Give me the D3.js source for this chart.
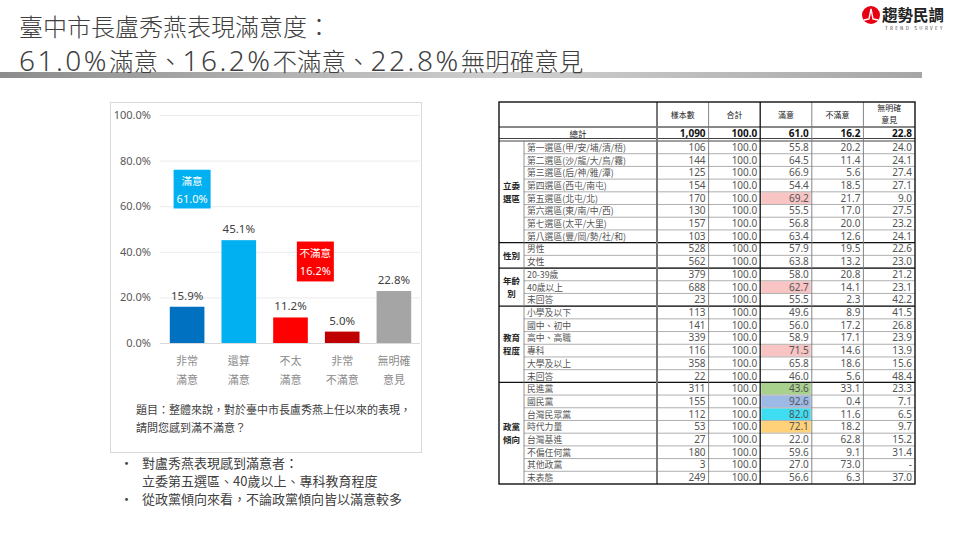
<!DOCTYPE html>
<html>
<head>
<meta charset="utf-8">
<title>臺中市長盧秀燕表現滿意度</title>
<script src="https://d3js.org/d3.v7.min.js"></script>
<style>
  body { margin: 0; background: #fff; }
  svg { display: block; font-family: "Noto Sans CJK TC", "Noto Sans", sans-serif; }
</style>
</head>
<body>
<div id="chart"></div>
<script>
// ---- chart data ----
var categories = ["非常滿意", "還算滿意", "不太滿意", "非常不滿意", "無明確意見"];
var catLines = [["非常", "滿意"], ["還算", "滿意"], ["不太", "滿意"], ["非常", "不滿意"], ["無明確", "意見"]];
var values = [15.9, 45.1, 11.2, 5.0, 22.8];
var barColors = ["#0070C0", "#00B0F0", "#FF0000", "#C00000", "#A5A5A5"];
var yTicks = [0, 20, 40, 60, 80, 100];

// ---- table data ----
var groupNames = [["立委", "選區"], ["性別"], ["年齡", "別"], ["教育", "程度"], ["政黨", "傾向"]];
var groupSizes = [8, 2, 3, 6, 8];
var rowLabels = [
  "第一選區(甲/安/埔/清/梧)", "第二選區(沙/龍/大/烏/霧)", "第三選區(后/神/雅/潭)", "第四選區(西屯/南屯)",
  "第五選區(北屯/北)", "第六選區(東/南/中/西)", "第七選區(太平/大里)", "第八選區(豐/岡/勢/社/和)",
  "男性", "女性",
  "20-39歲", "40歲以上", "未回答",
  "小學及以下", "國中、初中", "高中、高職", "專科", "大學及以上", "未回答",
  "民進黨", "國民黨", "台灣民眾黨", "時代力量", "台灣基進", "不偏任何黨", "其他政黨", "未表態"
];
var samples = ["106","144","125","154","170","130","157","103","528","562","379","688","23",
  "113","141","339","116","358","22","311","155","112","53","27","180","3","249"];
var satisfied = ["55.8","64.5","66.9","54.4","69.2","55.5","56.8","63.4","57.9","63.8","58.0","62.7","55.5",
  "49.6","56.0","58.9","71.5","65.8","46.0","43.6","92.6","82.0","72.1","22.0","59.6","27.0","56.6"];
var unsatisfied = ["20.2","11.4","5.6","18.5","21.7","17.0","20.0","12.6","19.5","13.2","20.8","14.1","2.3",
  "8.9","17.2","17.1","14.6","18.6","5.6","33.1","0.4","11.6","18.2","62.8","9.1","73.0","6.3"];
var noOpinion = ["24.0","24.1","27.4","27.1","9.0","27.5","23.2","24.1","22.6","23.0","21.2","23.1","42.2",
  "41.5","26.8","23.9","13.9","15.6","48.4","23.3","7.1","6.5","9.7","15.2","31.4","-","37.0"];
var totalRow = ["1,090", "100.0", "61.0", "16.2", "22.8"];
var headers = [["樣本數"], ["合計"], ["滿意"], ["不滿意"], ["無明確", "意見"]];

// highlighted cells in 滿意 column (row index -> fill)
var highlight = { 4: "#F8C4C4", 11: "#F8C4C4", 16: "#F8C4C4", 19: "#A9D18E", 20: "#9DB9E6", 21: "#3FDDF2", 22: "#FFD27A" };

var svg = d3.select("#chart").append("svg").attr("width", 960).attr("height", 540);

// ---- title ----
var grad = svg.append("defs").append("linearGradient").attr("id", "bar");
grad.append("stop").attr("offset", "0%").attr("stop-color", "#8c8c8c");
grad.append("stop").attr("offset", "55%").attr("stop-color", "#d0d0d0");
grad.append("stop").attr("offset", "100%").attr("stop-color", "#a6a6a6");
svg.append("rect").attr("x", 0).attr("y", 72).attr("width", 922).attr("height", 6).attr("fill", "url(#bar)");

svg.append("text").attr("x", 19).attr("y", 36).attr("font-size", 24).attr("font-weight", 300)
  .attr("fill", "#404040").text("臺中市長盧秀燕表現滿意度：");

// second title line: digits are set larger, as in the slide
var line2 = [["61.0%", 1], ["滿意、", 0], ["16.2%", 1], ["不滿意、", 0], ["22.8%", 1], ["無明確意見", 0]];
svg.append("text").attr("x", 19).attr("y", 71).attr("fill", "#404040").attr("font-weight", 300)
  .selectAll("tspan").data(line2).join("tspan")
  .attr("font-size", function(d) { return d[1] ? 28 : 24.5; })
  .attr("font-family", function(d) { return d[1] ? "Noto Sans, sans-serif" : null; })
  .attr("letter-spacing", function(d) { return d[1] ? 2.5 : 0; })
  .text(function(d) { return d[0]; });

// logo
var logo = svg.append("g");
logo.append("circle").attr("cx", 871).attr("cy", 15).attr("r", 9).attr("fill", "#E60012");
logo.append("path").attr("d", "M864,20 L869,19 L871,9 L873,19 L878,20").attr("fill", "none")
  .attr("stroke", "#fff").attr("stroke-width", 1.4);
logo.append("text").attr("x", 882).attr("y", 21).attr("font-size", 15.5).attr("font-weight", 700)
  .attr("fill", "#222").text("趨勢民調");
logo.append("text").attr("x", 885).attr("y", 30).attr("font-size", 4.5).attr("letter-spacing", 2.3)
  .attr("fill", "#444").text("TREND SURVEY");

// ---- bar chart ----
svg.append("rect").attr("x", 110.5).attr("y", 102.5).attr("width", 311).attr("height", 350)
  .attr("fill", "none").attr("stroke", "#d9d9d9");

var y = d3.scaleLinear().domain([0, 100]).range([343, 115]);
var x = d3.scaleBand().domain(categories).range([161, 420]).paddingInner(0.33).paddingOuter(0.17);

svg.append("g").selectAll("line").data(yTicks).join("line")
  .attr("x1", 160).attr("x2", 420)
  .attr("y1", function(d) { return y(d) + 0.5; }).attr("y2", function(d) { return y(d) + 0.5; })
  .attr("stroke", function(d) { return d === 0 ? "#d9d9d9" : "#ebebeb"; });

svg.append("g").selectAll("text").data(yTicks).join("text")
  .attr("x", 151).attr("y", function(d) { return y(d) + 4; })
  .attr("text-anchor", "end").attr("font-size", 11).attr("fill", "#595959")
  .attr("font-family", "Noto Sans, sans-serif")
  .text(function(d) { return d3.format(".1f")(d) + "%"; });

svg.append("g").selectAll("rect").data(values).join("rect")
  .attr("x", function(d, i) { return x(categories[i]); })
  .attr("y", function(d) { return y(d); })
  .attr("width", x.bandwidth())
  .attr("height", function(d) { return y(0) - y(d); })
  .attr("fill", function(d, i) { return barColors[i]; });

svg.append("g").selectAll("text").data(values).join("text")
  .attr("x", function(d, i) { return x(categories[i]) + x.bandwidth() / 2; })
  .attr("y", function(d) { return y(d) - 7; })
  .attr("text-anchor", "middle").attr("font-size", 11.5).attr("fill", "#404040")
  .attr("font-family", "Noto Sans, sans-serif")
  .text(function(d) { return d.toFixed(1) + "%"; });

var catText = svg.append("g").selectAll("text").data(catLines).join("text")
  .attr("text-anchor", "middle").attr("font-size", 11).attr("fill", "#8c8c8c");
catText.selectAll("tspan").data(function(d, i) { return d.map(function(s) { return { s: s, i: i }; }); })
  .join("tspan")
  .attr("x", function(d) { return x(categories[d.i]) + x.bandwidth() / 2; })
  .attr("y", function(d, j) { return 365 + j * 19; })
  .text(function(d) { return d.s; });

// annotation boxes
function tag(cx, top, bottom, fill, l1, l2) {
  var w = 37;
  svg.append("rect").attr("x", cx - w / 2).attr("y", y(top)).attr("width", w)
    .attr("height", y(bottom) - y(top)).attr("fill", fill);
  svg.append("text").attr("x", cx).attr("y", y(top) + 15).attr("text-anchor", "middle")
    .attr("font-size", 10.5).attr("fill", "#fff").text(l1);
  svg.append("text").attr("x", cx).attr("y", y(top) + 33).attr("text-anchor", "middle")
    .attr("font-size", 11).attr("fill", "#fff").attr("font-family", "Noto Sans, sans-serif").text(l2);
}
tag(x(categories[0]) + x.bandwidth() / 2 + 5, 76, 59, "#00B0F0", "滿意", "61.0%");
tag((x(categories[2]) + x(categories[3])) / 2 + x.bandwidth() / 2 - 1, 44.5, 27, "#FF0000", "不滿意", "16.2%");

svg.append("text").attr("x", 136).attr("y", 414).attr("font-size", 11).attr("fill", "#404040")
  .text("題目：整體來說，對於臺中市長盧秀燕上任以來的表現，");
svg.append("text").attr("x", 136).attr("y", 432).attr("font-size", 11).attr("fill", "#404040")
  .text("請問您感到滿不滿意？");

// bullets
var bullets = [["•", 120, 468], ["對盧秀燕表現感到滿意者：", 142, 468], ["立委第五選區、40歲以上、專科教育程度", 142, 486], ["•", 120, 504], ["從政黨傾向來看，不論政黨傾向皆以滿意較多", 142, 504]];
svg.append("g").selectAll("text").data(bullets).join("text")
  .attr("x", function(d) { return d[1]; }).attr("y", function(d) { return d[2]; })
  .attr("font-size", 13).attr("fill", "#404040").text(function(d) { return d[0]; });

// ---- table ----
var tx0 = 499, tGroupR = 524, tLabelR = 657, tx1 = 915;
var colX = d3.scaleBand().domain(d3.range(5)).range([tLabelR, tx1]);
var rowY = d3.scaleBand().domain(d3.range(rowLabels.length)).range([141, 484]);
var rh = rowY.bandwidth();
var t = svg.append("g").attr("font-size", 9);
var numFont = "Noto Sans, sans-serif";

// highlight cells
Object.keys(highlight).forEach(function(k) {
  t.append("rect").attr("x", colX(2) + 1).attr("y", rowY(+k) + 0.5)
    .attr("width", colX.bandwidth() - 2).attr("height", rh - 1).attr("fill", highlight[k]);
});

// header
headers.forEach(function(h, i) {
  h.forEach(function(s, j) {
    t.append("text").attr("x", colX(i) + colX.bandwidth() / 2)
      .attr("y", (h.length === 1 ? 118 : 111) + j * 11.5)
      .attr("text-anchor", "middle").attr("font-size", 8).attr("fill", "#222").text(s);
  });
});
t.append("text").attr("x", (tx0 + tLabelR) / 2).attr("y", 136.5).attr("text-anchor", "middle")
  .attr("font-size", 8.5).attr("fill", "#222").text("總計");
totalRow.forEach(function(v, i) {
  t.append("text").attr("x", colX(i) + colX.bandwidth() - 3).attr("y", 137)
    .attr("text-anchor", "end").attr("font-size", 10).attr("font-weight", 700)
    .attr("font-family", numFont).attr("fill", "#111").text(v);
});

// body rows
var cols = [samples, d3.range(rowLabels.length).map(function() { return "100.0"; }), satisfied, unsatisfied, noOpinion];
rowLabels.forEach(function(lab, r) {
  var cy = rowY(r) + rh / 2 + 3.5;
  t.append("text").attr("x", tGroupR + 3).attr("y", cy).attr("font-size", 8.8).attr("fill", "#555").text(lab);
  cols.forEach(function(c, i) {
    t.append("text").attr("x", colX(i) + colX.bandwidth() - 3).attr("y", cy)
      .attr("text-anchor", "end").attr("font-family", numFont).attr("font-size", 10)
      .attr("fill", "#555").text(c[r]);
  });
});

// row lines
t.append("g").selectAll("line").data(d3.range(1, rowLabels.length)).join("line")
  .attr("x1", tGroupR).attr("x2", tx1)
  .attr("y1", function(d) { return rowY(d); }).attr("y2", function(d) { return rowY(d); })
  .attr("stroke", "#9a9a9a").attr("stroke-width", 0.8);

// group labels and separators
var start = 0;
groupNames.forEach(function(g, gi) {
  var y0 = rowY(start), y1 = start + groupSizes[gi] < rowLabels.length ? rowY(start + groupSizes[gi]) : 484;
  var mid = (y0 + y1) / 2;
  g.forEach(function(s, j) {
    t.append("text").attr("x", (tx0 + tGroupR) / 2).attr("y", mid + 3.5 + (j - (g.length - 1) / 2) * 13)
      .attr("text-anchor", "middle").attr("font-size", 8.5).attr("font-weight", 700).attr("fill", "#222").text(s);
  });
  if (gi > 0) {
    t.append("line").attr("x1", tx0).attr("x2", tx1).attr("y1", y0).attr("y2", y0)
      .attr("stroke", "#111").attr("stroke-width", 1.2);
  }
  start += groupSizes[gi];
});

// header / total lines
t.append("line").attr("x1", tx0).attr("x2", tx1).attr("y1", 127).attr("y2", 127).attr("stroke", "#111");
t.append("line").attr("x1", tx0).attr("x2", tx1).attr("y1", 138.5).attr("y2", 138.5).attr("stroke", "#111").attr("stroke-width", 0.8);
t.append("line").attr("x1", tx0).attr("x2", tx1).attr("y1", 141).attr("y2", 141).attr("stroke", "#111").attr("stroke-width", 0.8);

// vertical lines
t.append("line").attr("x1", tGroupR).attr("x2", tGroupR).attr("y1", 141).attr("y2", 484).attr("stroke", "#777").attr("stroke-width", 0.8);
[1, 3, 4].forEach(function(i) {
  t.append("line").attr("x1", colX(i)).attr("x2", colX(i)).attr("y1", 102).attr("y2", 484)
    .attr("stroke", "#777").attr("stroke-width", 0.9);
});
t.append("line").attr("x1", colX(2)).attr("x2", colX(2)).attr("y1", 102).attr("y2", 484)
  .attr("stroke", "#111").attr("stroke-width", 1.3);
t.append("line").attr("x1", tLabelR).attr("x2", tLabelR).attr("y1", 102).attr("y2", 484)
  .attr("stroke", "#777").attr("stroke-width", 2);
t.append("rect").attr("x", tx0).attr("y", 102).attr("width", tx1 - tx0).attr("height", 382)
  .attr("fill", "none").attr("stroke", "#111").attr("stroke-width", 1.4);
</script>
</body>
</html>
